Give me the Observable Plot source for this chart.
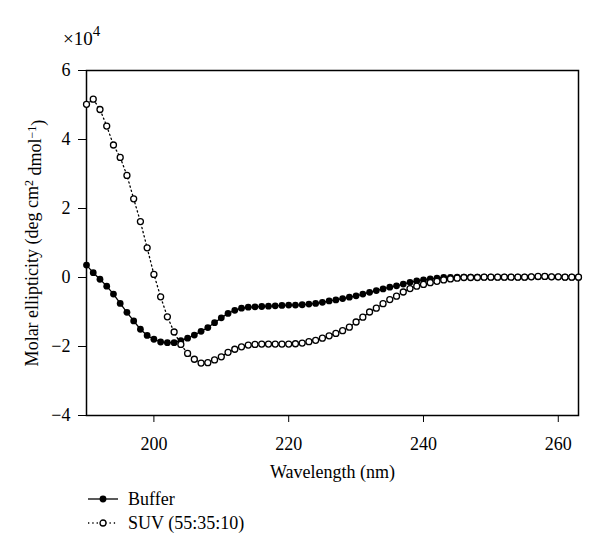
<!DOCTYPE html>
<html>
<head>
<meta charset="utf-8">
<script src="https://cdn.jsdelivr.net/npm/d3@7"></script>
<script src="https://cdn.jsdelivr.net/npm/@observablehq/plot@0.6"></script>
<style>
  html, body { margin: 0; padding: 0; background: #fff; }
  #wrap { position: relative; width: 600px; height: 555px; font-family: "Liberation Serif", "DejaVu Serif", serif; color: #000; }
  #mult { position: absolute; left: 63px; top: 29px; font-size: 19px; line-height: 1; }
  #mult sup { font-size: 15px; position: relative; top: -2px; vertical-align: super; line-height: 0; }
  #legend { position: absolute; left: 86px; top: 487px; font-size: 18px; }
  .row { display: flex; align-items: center; height: 24px; }
  .row svg { margin-right: 8px; }
</style>
</head>
<body>
<div id="wrap">
  <div id="chart"></div>
  <div id="mult">×10<sup>4</sup></div>
  <div id="legend"></div>
</div>
<script>
// Wavelength (nm)
const wavelengths = [
  190,191,192,193,194,195,196,197,198,199,
  200,201,202,203,204,205,206,207,208,209,
  210,211,212,213,214,215,216,217,218,219,
  220,221,222,223,224,225,226,227,228,229,
  230,231,232,233,234,235,236,237,238,239,
  240,241,242,243,244,245,246,247,248,249,
  250,251,252,253,254,255,256,257,258,259,
  260,261,262,263
];
// Molar ellipticity (x10^4), Buffer
const buffer = [
  0.36,0.14,-0.05,-0.25,-0.48,-0.75,-1.01,-1.26,-1.50,-1.68,
  -1.79,-1.87,-1.89,-1.89,-1.83,-1.76,-1.67,-1.56,-1.45,-1.31,
  -1.17,-1.04,-0.95,-0.89,-0.86,-0.85,-0.84,-0.83,-0.82,-0.81,
  -0.80,-0.80,-0.79,-0.77,-0.75,-0.72,-0.68,-0.65,-0.61,-0.57,
  -0.53,-0.48,-0.43,-0.38,-0.33,-0.28,-0.24,-0.19,-0.14,-0.10,
  -0.07,-0.04,-0.02,0.00,0.00,0.01,0.01,0.01,0.01,0.01,
  0.01,0.01,0.01,0.01,0.01,0.01,0.02,0.02,0.03,0.02,
  0.02,0.01,0.01,0.01
];
// Molar ellipticity (x10^4), SUV (55:35:10)
const suv = [
  5.02,5.17,4.87,4.39,3.84,3.48,2.96,2.28,1.62,0.86,
  0.09,-0.56,-1.14,-1.58,-1.94,-2.20,-2.37,-2.48,-2.47,-2.39,
  -2.30,-2.17,-2.08,-2.01,-1.96,-1.94,-1.93,-1.93,-1.93,-1.93,
  -1.93,-1.92,-1.90,-1.86,-1.82,-1.76,-1.69,-1.62,-1.54,-1.44,
  -1.29,-1.15,-1.00,-0.89,-0.76,-0.64,-0.54,-0.42,-0.32,-0.25,
  -0.20,-0.15,-0.11,-0.07,-0.04,-0.02,0.00,0.00,0.00,0.01,
  0.01,0.01,0.01,0.01,0.01,0.01,0.02,0.03,0.03,0.02,
  0.02,0.01,0.01,0.01
];
const xTicks = [200, 220, 240, 260];
const yTicks = [-4, -2, 0, 2, 4, 6];
const seriesNames = ["Buffer", "SUV (55:35:10)"];
const xLabel = "Wavelength (nm)";
const yLabel = "Molar ellipticity (deg cm2 dmol−1)";

const bufData = wavelengths.map((w, i) => ({w, v: buffer[i]}));
const suvData = wavelengths.map((w, i) => ({w, v: suv[i]}));

const chart = Plot.plot({
  width: 600,
  height: 485,
  marginLeft: 86,
  marginRight: 22,
  marginTop: 70,
  marginBottom: 70,
  style: {fontFamily: "'Liberation Serif', 'DejaVu Serif', serif", fontSize: "18px", background: "#fff", color: "#000"},
  x: {domain: [190, 263]},
  y: {domain: [-4, 6]},
  marks: [
    Plot.frame({stroke: "#000", strokeWidth: 1.5}),
    Plot.axisX({ticks: xTicks, tickSize: 7, tickPadding: 15, tickFormat: d => String(d),
      label: xLabel, labelAnchor: "center", labelOffset: 62, labelArrow: "none"}),
    Plot.axisY({ticks: yTicks, tickSize: 8, tickPadding: 8,
      tickFormat: d => d < 0 ? "\u2212" + Math.abs(d) : String(d),
      label: yLabel, labelAnchor: "center", labelOffset: 61, labelArrow: "none"}),
    Plot.line(bufData, {x: "w", y: "v", stroke: "#000", strokeWidth: 1.3}),
    Plot.dot(bufData, {x: "w", y: "v", r: 3.4, fill: "#000", stroke: "none"}),
    Plot.line(suvData, {x: "w", y: "v", stroke: "#000", strokeWidth: 1.3, strokeDasharray: "1.3,3"}),
    Plot.dot(suvData, {x: "w", y: "v", r: 3, fill: "#fff", stroke: "#000", strokeWidth: 1.3})
  ]
});
document.getElementById("chart").appendChild(chart);

// superscripts in y label
const lab = chart.querySelector('[aria-label="y-axis label"] text');
if (lab) {
  lab.textContent = "";
  const parts = [["Molar ellipticity (deg cm", 0], ["2", 1], [" dmol", 0], ["−1", 1], [")", 0]];
  let shifted = false;
  for (const [t, sup] of parts) {
    const ts = document.createElementNS("http://www.w3.org/2000/svg", "tspan");
    ts.textContent = t;
    if (sup) { ts.setAttribute("dy", "-0.45em"); ts.setAttribute("font-size", "12px"); shifted = true; }
    else if (shifted) { ts.setAttribute("dy", "0.45em"); shifted = false; }
    lab.appendChild(ts);
  }
}

// legend
const legend = document.getElementById("legend");
seriesNames.forEach((name, i) => {
  const row = document.createElement("div");
  row.className = "row";
  const filled = i === 0;
  row.innerHTML = `<svg width="34" height="14">
    <line x1="2" x2="32" y1="7" y2="7" stroke="#000" stroke-width="1.3" ${filled ? "" : 'stroke-dasharray="1.3,3"'}/>
    <circle cx="17" cy="7" r="${filled ? 3.4 : 3}" fill="${filled ? "#000" : "#fff"}" stroke="${filled ? "none" : "#000"}" stroke-width="1.3"/>
  </svg><span>${name}</span>`;
  legend.appendChild(row);
});
</script>
</body>
</html>
